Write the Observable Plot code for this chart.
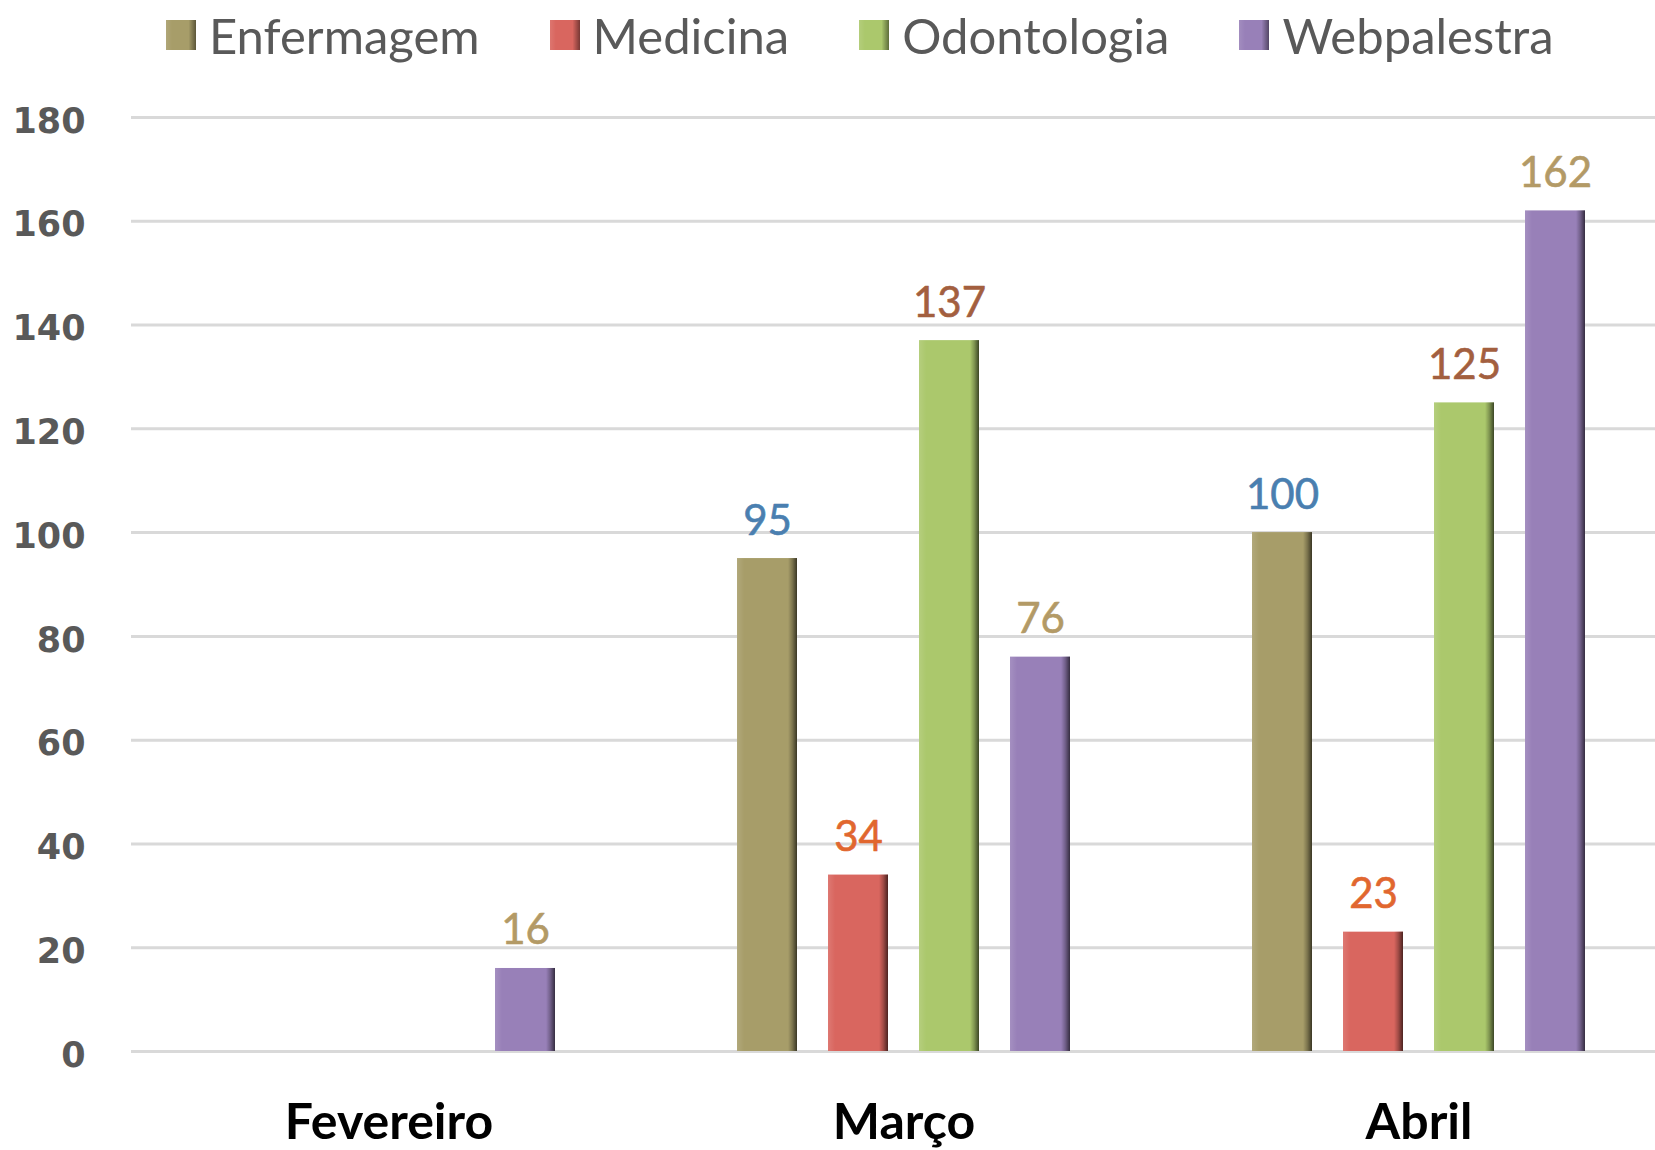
<!DOCTYPE html>
<html><head><meta charset="utf-8">
<script src="https://cdn.jsdelivr.net/npm/d3@7"></script>
<script src="https://cdn.jsdelivr.net/npm/@observablehq/plot@0.6"></script>
<style>
body{margin:0;background:#fff;width:1655px;height:1150px;overflow:hidden;}
#legend{height:75px;display:flex;align-items:center;padding-left:166px;gap:70px;font-family:Lato,sans-serif;font-size:49px;color:#595959;box-sizing:border-box;padding-bottom:6px;}
.item{display:flex;align-items:center;gap:13px;}
.sw{width:30px;height:30px;display:inline-block;}
#chart svg{overflow:hidden;display:block;}
</style></head>
<body>
<div id="legend"></div>
<div id="chart"></div>
<script>
const months = ["Fevereiro", "Março", "Abril"];
const series = ["Enfermagem", "Medicina", "Odontologia", "Webpalestra"];
const enfermagem = [null, 95, 100];
const medicina = [null, 34, 23];
const odontologia = [null, 137, 125];
const webpalestra = [16, 76, 162];
const barColors = ["#a79d69", "#d9665f", "#abc86c", "#9880b8"];
const labelColors = ["#4a7fb0", "#e1672f", "#a35f3f", "#b39a66"];
const yTicks = [0, 20, 40, 60, 80, 100, 120, 140, 160, 180];

const valuesBySeries = [enfermagem, medicina, odontologia, webpalestra];
const rows = [];
series.forEach((s, i) => months.forEach((m, j) => {
  const v = valuesBySeries[i][j];
  if (v != null) rows.push({month: m, s, v});
}));

// legend
const leg = document.getElementById("legend");
series.forEach((s, i) => {
  const it = document.createElement("div"); it.className = "item";
  const sw = document.createElement("span"); sw.className = "sw";
  sw.style.background = `linear-gradient(90deg, rgba(255,255,255,0.1) 0%, rgba(0,0,0,0) 20%, rgba(0,0,0,0) 75%, rgba(0,0,0,0.45) 100%), ${barColors[i]}`;
  const t = document.createElement("span"); t.textContent = s;
  it.append(sw, t); leg.append(it);
});

const defs = () => {
  const d = d3.create("svg:defs");
  const g = d.append("linearGradient").attr("id", "bevel").attr("x1", 0).attr("x2", 1).attr("y1", 0).attr("y2", 0);
  [[0, "#fff", 0.12], [0.12, "#fff", 0.0], [0.85, "#000", 0.0], [0.92, "#000", 0.25], [1, "#000", 0.65]]
    .forEach(([o, c, a]) => g.append("stop").attr("offset", o).attr("stop-color", c).attr("stop-opacity", a));
  return d.node();
};

const plot = Plot.plot({
  width: 1655,
  height: 1075,
  marginLeft: 131,
  marginRight: -21,
  marginTop: 42,
  marginBottom: 99,
  fx: {domain: months, padding: 0},
  x: {domain: series, paddingInner: 0.344, paddingOuter: 0.986, axis: null},
  y: {domain: [0, 180], axis: null},
  color: {domain: series, range: barColors},
  marks: [
    defs,
    Plot.ruleY(yTicks, {stroke: "#d9d9d9", strokeWidth: 3}),
    Plot.barY(rows, {fx: "month", x: "s", y: "v", fill: "s"}),
    Plot.barY(rows, {fx: "month", x: "s", y: "v", fill: "url(#bevel)"}),
    ...series.map((s, i) => Plot.text(rows.filter(d => d.s === s), {
      fx: "month", x: "s", y: "v", text: d => String(d.v), fill: labelColors[i],
      lineAnchor: "bottom", dy: -24, fontSize: 42, fontFamily: "Lato", stroke: labelColors[i], strokeWidth: 0.6
    })),
    Plot.axisY(yTicks, {tickSize: 0, tickPadding: 46, dy: 4, fontSize: 35, fontWeight: "bold", fontFamily: "DejaVu Sans", fill: "#595959", label: null}),
    Plot.axisFx({anchor: "bottom", tickSize: 0, tickPadding: 52, fontSize: 50, fontWeight: "bold", fontFamily: "Lato", fill: "#000", label: null})
  ]
});
document.getElementById("chart").append(plot);
</script>
</body></html>
